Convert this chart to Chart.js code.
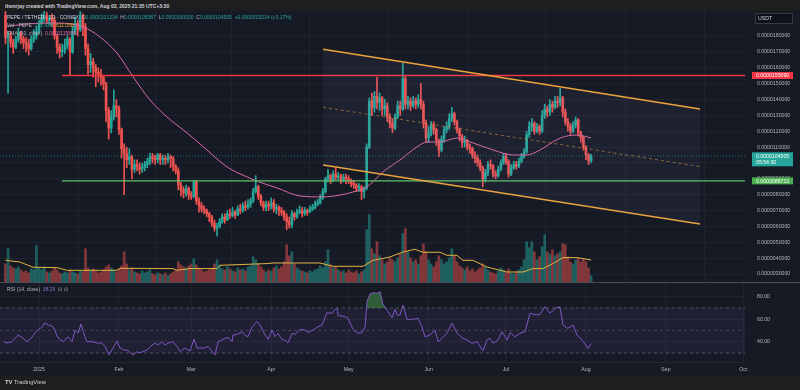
<!DOCTYPE html>
<html><head><meta charset="utf-8">
<script src="https://cdn.jsdelivr.net/npm/chart.js@4.4.1/dist/chart.umd.min.js"></script>
<style>
html,body{margin:0;padding:0;background:#1e1e1e;width:800px;height:390px;overflow:hidden;font-family:"Liberation Sans",Arial,sans-serif}
#wrap{position:relative;width:800px;height:390px}
.t{position:absolute;white-space:nowrap;font-size:5px;line-height:1;color:#b2b5be}
.g{color:#b2b5be}.u{color:#26a69a}.w{color:#d1d4dc}
</style></head><body>
<div id="wrap">
<div style="position:absolute;left:0;top:11px;width:800px;height:365px;background:#161a25"></div>
<canvas id="main" width="800" height="271" style="position:absolute;left:0;top:11px;width:800px;height:271px"></canvas>
<div style="position:absolute;left:0;top:282px;width:800px;height:1px;background:#4a4e5a"></div>
<canvas id="rsi" width="800" height="93" style="position:absolute;left:0;top:283px;width:800px;height:93px"></canvas>
<div style="position:absolute;left:0;top:362px;width:745px;height:1px;background:#232733"></div>

<div class="t w" style="left:5px;top:3.5px;font-weight:bold">thenrjay created with TradingView.com, Aug 03, 2025 21:35 UTC+3:30</div>
<div class="t" style="left:7px;top:15px"><span class="w">PEPE / TETHER · 1D · COINEX</span>&nbsp; <span class="g">O</span><span class="u">0.0000101234</span>&nbsp; <span class="g">H</span><span class="u">0.0000105387</span>&nbsp; <span class="g">L</span><span class="u">0.0000100000</span>&nbsp; <span class="g">C</span><span class="u">0.0000104505</span>&nbsp; <span class="u">+0.0000003214 (+3.17%)</span></div>
<div class="t" style="left:7px;top:23px"><span class="g">Vol · PEPE</span>&nbsp; <span class="u">171.42B</span>&nbsp; <span style="color:#f0a83a">611.05B</span></div>
<div class="t" style="left:7px;top:30.5px"><span class="g">EMA (50, close)</span>&nbsp; <span style="color:#dc6aa2">0.0000115838</span></div>
<div class="t" style="left:7px;top:286.5px"><span class="g">RSI (14, close)</span>&nbsp; <span style="color:#8e6fd0">38.29</span>&nbsp; <span class="g">∅ ∅</span></div>
<div class="t w" style="left:5px;top:380px;font-size:5.8px"><span style="font-weight:900">TV</span> TradingView</div>
</div>
<script>
// ---------- data (prices in 1e-6 USDT) ----------
const START_DAY = -13;            // first candle: Dec 19, 2024 (day 0 = Jan 1, 2025)
const firstOpen = 19.3;
const closes = [
17.9,18.0,17.6,17.3,17.8,18.2,17.8,17.6,17.5,17.2,17.8,18.0,18.3,
18.8,19.1,19.3,19.0,19.1,19.0,18.0,17.3,17.0,17.1,17.4,17.8,17.0,18.3,18.8,18.4,19.3,18.6,17.2,16.2,16.4,
16.0,15.7,15.6,15.4,15.0,13.3,12.2,12.9,13.6,13.4,12.1,10.9,10.6,
10.2,10.4,9.6,9.9,9.8,9.6,9.7,9.9,10.1,10.4,10.3,10.2,10.5,10.2,10.3,10.2,10.4,10.3,9.8,
9.5,8.6,8.3,8.1,8.4,8.0,7.9,8.8,7.6,7.3,7.1,7.0,6.8,6.6,6.2,5.9,6.0,
6.3,6.6,6.4,6.8,6.7,6.9,6.7,7.1,7.0,7.3,7.2,7.4,7.6,8.2,8.5,7.9,7.5,7.2,7.4,7.3,7.5,7.1,7.2,7.0,6.9,6.6,6.3,6.1,6.8,6.6,
6.9,7.0,6.8,7.0,6.9,7.1,7.2,7.4,7.5,7.8,8.2,9.0,9.2,8.9,9.3,9.1,9.2,8.9,9.1,9.0,8.9,8.7,8.6,8.4,8.5,8.2,8.4,
11.0,13.9,13.5,14.2,13.8,14.1,13.4,13.6,12.9,12.5,
12.2,12.9,13.6,13.4,15.3,13.7,13.9,13.6,13.9,13.7,
14.0,13.7,12.5,11.6,11.9,12.4,12.1,11.4,10.8,11.5,
12.1,12.3,12.8,13.1,12.6,12.1,11.7,11.3,11.4,11.0,
10.9,10.5,10.3,10.0,9.7,9.0,9.4,9.9,9.8,9.3,
9.2,9.6,10.0,10.4,10.1,9.3,9.7,9.9,9.8,10.1,
10.4,10.7,11.8,12.3,12.5,12.0,12.3,12.0,13.0,13.4,
13.2,13.7,13.5,13.9,13.8,14.1,13.2,12.6,12.3,12.0,
12.4,12.7,11.9,11.6,11.0,10.5,10.1291,10.4505];
const highs = [
19.6,18.3,18.3,17.8,18.0,18.5,18.3,18.0,17.9,17.8,18.0,18.4,18.6,
19.0,19.4,19.6,19.5,19.3,19.4,19.2,18.1,17.5,17.5,17.8,18.0,17.9,18.6,19.2,19.0,19.6,19.4,18.8,17.5,16.9,
16.6,16.2,16.0,15.9,15.5,15.1,13.5,13.3,14.6,14.0,13.6,12.2,11.2,
11.0,10.9,10.5,10.2,10.2,10.0,10.0,10.1,10.3,10.6,10.6,10.5,10.6,10.6,10.5,10.5,10.6,10.5,10.4,
9.9,9.7,8.8,8.5,8.6,8.5,8.2,8.9,8.9,7.8,7.5,7.3,7.1,6.9,6.7,6.4,6.2,
6.5,6.8,6.8,7.0,7.1,7.2,7.0,7.3,7.4,7.5,7.6,7.7,7.8,8.4,9.2,8.6,8.0,7.6,7.6,7.6,7.8,7.7,7.4,7.3,7.2,7.0,6.8,6.6,7.0,6.9,
7.1,7.3,7.2,7.2,7.1,7.3,7.4,7.6,7.7,8.0,8.4,9.1,9.6,9.3,9.5,9.7,9.4,9.3,9.3,9.3,9.2,9.0,8.9,8.7,8.7,8.6,8.5,
11.2,14.1,14.4,14.5,15.4,14.4,14.2,14.0,13.8,13.1,
12.8,13.1,13.9,13.9,16.3,15.5,14.2,14.1,14.2,14.1,
14.3,15.0,13.9,12.7,12.3,12.6,12.6,12.2,11.5,11.7,
12.3,12.6,13.1,13.5,13.2,12.7,12.2,11.8,11.7,11.5,
11.2,11.0,10.7,10.5,10.2,9.8,9.6,10.1,10.2,9.9,
9.5,9.8,10.2,10.6,10.6,10.2,9.9,10.1,10.1,10.3,
10.6,10.9,12.0,12.6,12.8,12.6,12.5,12.4,13.3,13.7,
13.6,14.0,13.9,14.2,14.2,14.7,14.2,13.4,12.8,12.5,
12.6,12.9,12.8,12.0,11.7,11.1,10.6,10.5387];
const lows = [
17.5,14.4,17.3,16.9,17.2,17.6,17.5,17.2,17.0,16.8,17.1,17.6,17.8,
18.2,18.7,18.9,18.8,18.7,18.6,17.8,16.9,16.6,16.7,16.9,17.2,15.5,16.9,18.1,18.0,18.3,18.0,16.8,15.6,15.7,
15.4,14.8,15.1,14.9,14.6,12.6,11.5,11.9,12.7,12.9,11.8,10.3,8.0,
9.7,9.9,9.0,9.4,9.5,9.3,9.4,9.5,9.7,9.9,10.0,9.9,10.0,9.9,9.9,9.9,10.0,9.7,9.5,
9.3,8.3,7.9,7.8,7.9,7.7,7.7,7.8,7.4,6.9,6.9,6.8,6.6,6.3,6.0,5.7,5.4,
5.9,6.2,6.2,6.4,6.5,6.6,6.5,6.7,6.8,6.9,7.0,7.1,7.2,7.5,8.1,7.7,7.3,7.0,7.0,7.0,7.1,6.9,6.8,6.7,6.7,6.4,5.8,5.9,5.9,6.4,
6.5,6.8,6.6,6.7,6.7,6.9,7.0,7.1,7.3,7.4,7.7,8.1,8.8,8.7,8.8,8.9,8.9,8.7,8.8,8.7,8.7,8.5,8.4,8.2,8.2,7.7,7.8,
8.3,10.9,13.0,13.2,13.4,13.3,13.0,13.0,12.6,12.2,
11.9,12.1,12.8,13.0,13.3,13.4,13.4,13.3,13.5,13.4,
13.5,13.4,12.2,11.3,11.3,11.7,11.8,11.1,10.4,10.7,
11.3,11.9,12.1,12.6,12.4,11.9,11.4,11.0,11.0,10.8,
10.6,10.3,10.0,9.8,9.5,8.5,8.8,9.2,9.6,9.1,
9.0,9.1,9.5,9.9,9.9,9.1,9.2,9.6,9.6,9.7,
10.0,10.3,10.6,11.6,12.0,11.8,11.9,11.8,11.9,12.8,
12.9,13.0,13.2,13.4,13.5,13.6,12.9,12.4,12.0,11.8,
11.9,12.2,11.7,11.3,10.8,10.2,9.9,10.0];
// volume in billions
const volumes = [
504,924,448,392,364,420,336,280,308,252,364,336,1008,
392,336,420,280,252,308,392,336,252,224,280,252,336,280,252,224,308,280,924,392,336,
364,308,252,280,336,420,476,392,336,280,364,448,840,
504,336,392,280,252,224,308,252,280,336,224,196,252,224,196,252,168,224,280,
336,560,476,420,392,448,504,644,476,392,336,280,308,336,392,504,616,
476,364,336,420,364,308,280,392,336,364,308,420,448,700,616,504,420,336,280,336,308,392,448,364,420,560,1036,728,840,504,
392,336,308,280,252,308,280,336,364,448,392,560,896,476,392,420,336,280,308,252,336,280,252,308,224,280,336,
1456,1876,924,784,1120,728,616,504,560,672,
616,560,672,784,1344,1484,840,672,560,616,
504,728,1064,840,616,504,420,560,728,616,
504,560,672,924,728,560,448,392,336,420,
308,364,280,336,392,504,420,336,280,252,
224,308,392,336,280,364,252,224,280,336,
420,616,1120,952,1120,840,616,700,980,1316,
840,784,896,728,784,840,1064,1036,700,560,
504,616,672,560,644,560,392,171.42];
const emaDays = [-13,-5,5.4,17.1,23.6,30.2,36.4,43.0,49.6,57.4,65.1,72.9,80.6,84.5,92.2,101.2,110.1,116.7,121.7,127.1,133.3,139.9,146.5,150.4,155.4,162.0,168.2,176.0,183.7,189.1,194.2,202.0,208.5,214];
const emaVals = [18.6,18.75,18.82,18.57,17.94,16.93,15.44,13.97,12.9,11.89,10.82,9.75,9.12,8.85,8.43,7.92,7.86,7.98,8.17,8.49,9.43,10.19,11.01,11.32,11.32,11.57,11.26,10.82,10.5,10.5,10.82,11.57,11.76,11.58];
const volMaDays = [-13,-7.4,-2.3,7.0,10.9,30.2,31.4,51.9,53.5,58.5,69.0,70.2,88.4,90.7,101.2,108.9,114.0,125.6,129.5,136.0,141.1,145.7,148.8,155.4,158.1,162.0,164.3,168.2,173.6,181.4,187.6,191.5,195.3,199.2,203.1,208.5,212.4,214];
const volMaVals = [603,556,409,400,325,325,381,373,325,373,373,464,512,528,528,528,436,436,603,695,834,909,826,826,742,742,603,603,417,278,278,373,373,512,678,678,631,611];
const rsiDays = [-13.6,-12.4,-10.5,-8.1,-6.2,-4.7,-2.7,-1.6,-0.4,1.2,2.3,3.5,5.4,7.4,9.3,11.2,12.8,14.0,15.1,16.3,17.1,18.6,20.9,22.5,24.4,25.6,27.1,28.7,30.2,31.4,32.9,34.5,36.4,38.0,39.1,41.9,43.8,45.0,46.1,47.7,48.8,50.0,51.9,53.5,54.7,56.6,58.5,60.1,61.2,62.4,64.3,65.5,67.1,68.2,69.4,70.9,72.1,73.3,74.8,75.2,77.1,78.7,79.8,81.0,82.6,84.5,85.7,87.6,88.8,90.3,91.5,92.6,94.2,95.3,96.5,98.1,99.2,101.2,103.1,104.3,106.2,108.1,109.7,111.6,113.6,114.7,115.5,115.9,117.8,119.8,121.7,123.6,125.2,126.4,127.1,128.3,129.5,131.0,132.2,133.3,135.3,136.8,138.0,138.8,139.9,141.1,142.6,145.0,146.9,148.4,149.6,151.6,153.5,154.7,156.2,158.1,160.1,162.0,164.3,165.9,167.8,169.8,172.1,173.6,174.8,176.0,177.9,179.5,181.4,182.6,184.5,186.4,188.4,190.3,193.0,194.2,196.1,198.1,200.0,201.9,203.1,204.7,205.8,207.0,208.5,210.5,212.8,214];
const rsiVals = [40,38.8,40,46,43.3,40,44,47.7,50.5,53,56.7,54.9,53.4,43.3,40,44.4,40,50.4,47.7,55.7,48.9,40,40,38.8,38.8,35.7,28.2,34.4,40.6,34.4,32.7,32.1,28.2,31,30.2,32.7,37,38.8,37,40,37,38.8,40,35.7,31.2,34.4,31.7,42.4,34.4,34.4,34.4,35.8,31.3,28.3,40,41.5,43,43.8,40,45.9,46.8,48.8,45.9,44.4,53.3,57.8,54.8,45.9,42,50.4,44.4,47.4,42,41.5,39,47.4,46.5,50.9,50.4,48.2,50.4,53.3,54.8,65.7,65.2,68.8,69.7,63.1,62.8,60.8,51,47.5,48,53.3,75.6,82.4,83.6,83,84.4,73.5,66.7,61.3,68.8,63.7,63.7,72.6,59.9,59.9,60.8,53.3,44.4,46,50.4,40,43,47.5,56.4,47.5,43,41.5,38.6,40,32,41.5,43,38.6,41.5,48.9,41.5,48,44.4,47.5,48.9,65.2,63.7,64.4,71.1,65.2,69.7,71.1,54.8,51.9,52.8,54.8,46,41.5,34.1,38.3];
const monthDays = [0,31,59,90,120,151,181,212,243,273];
const monthLabels = ['2025','Feb','Mar','Apr','May','Jun','Jul','Aug','Sep','Oct'];
const priceTicks = [3,4,5,6,7,8,9,10,11,12,13,14,15,16,17,18];
const rsiTicks = [40,60,80];
const resistance = 15.509, support = 8.8713, lastPrice = 10.4505, countdown = '05:54:30';
const levelStartDay = 8.9;
const channelDays = [110.1, 256.2];
const channelUpper = [17.16, 13.40];
const channelLower = [9.87, 6.15];
const rsiBand = [30, 50, 70];

// ---------- layout constants ----------
const X_MIN = -15.12, X_MAX = 273.64;
const P_MIN = 2.499, P_MAX = 19.575, V_MAX = 7530;
const R_MIN = 21.96, R_MAX = 92.18;
const UP = '#26a69a', DN = '#ef5350', GRID = '#1f2330', TXT = '#b2b5be';
const FONT = {family: '"Liberation Sans", Arial, sans-serif', size: 5.2};
Chart.defaults.font.family = FONT.family;

const days = closes.map((_, i) => START_DAY + i);
const opens = closes.map((c, i) => i === 0 ? firstOpen : closes[i - 1]);
const isUp = i => closes[i] >= opens[i];
const fmtP = v => (v * 1e-6).toFixed(10);
const fit = (w, h) => s => { if (w != null) s.width = w; if (h != null) s.height = h; s.paddingTop = s.paddingBottom = s.paddingLeft = s.paddingRight = 0; };
const seg = (x0, x1, y0, y1) => [{x: x0, y: y0}, {x: x1, y: y1}];
const lineDs = (data, color, extra) => Object.assign({type: 'line', data, borderColor: color, borderWidth: 1, pointRadius: 0, fill: false, yAxisID: 'y', order: 0}, extra || {});

const axisLabels = {
  id: 'axisLabels',
  afterDraw(chart) {
    const c = chart.ctx, ys = chart.scales.y;
    c.save();
    c.fillStyle = '#0f121a'; c.fillRect(755, 2, 38, 11);
    c.strokeStyle = '#363a45'; c.lineWidth = 1; c.strokeRect(755.5, 2.5, 37, 10);
    c.font = '5.2px "Liberation Sans", Arial, sans-serif'; c.textBaseline = 'middle'; c.textAlign = 'left';
    c.fillStyle = '#d1d4dc'; c.fillText('USDT', 758, 7.8);
    const items = [
      {v: resistance, bg: '#f23645'},
      {v: support, bg: '#4caf50'},
      {v: lastPrice, bg: UP, sub: countdown}
    ];
    items.forEach(it => {
      const y = ys.getPixelForValue(it.v);
      const h = it.sub ? 14 : 7;
      c.fillStyle = it.bg;
      c.fillRect(752, y - 3.5, 41, h);
      c.fillStyle = '#ffffff';
      c.fillText(fmtP(it.v), 756, y + 0.3);
      if (it.sub) c.fillText(it.sub, 756, y + 6.8);
    });
    c.restore();
  }
};

new Chart(document.getElementById('main'), {
  type: 'bar',
  data: {
    datasets: [
      {type: 'bar', label: 'vol', yAxisID: 'yv', data: days.map((d, i) => ({x: d, y: volumes[i]})),
       backgroundColor: ctx => isUp(ctx.dataIndex) ? 'rgba(38,166,154,0.5)' : 'rgba(239,83,80,0.5)',
       barThickness: 2, grouped: false, order: 20},
      lineDs(volMaDays.map((d, i) => ({x: d, y: volMaVals[i]})), '#e3b341', {yAxisID: 'yv', order: 15}),
      lineDs(seg(channelDays[0], channelDays[1], channelUpper[0], channelUpper[1]), '#eea43c',
        {borderWidth: 1.5, fill: '+1', backgroundColor: 'rgba(140,140,200,0.07)'}),
      lineDs(seg(channelDays[0], channelDays[1], channelLower[0], channelLower[1]), '#eea43c', {borderWidth: 1.5}),
      lineDs(seg(channelDays[0], channelDays[1], (channelUpper[0] + channelLower[0]) / 2, (channelUpper[1] + channelLower[1]) / 2),
        'rgba(220,150,60,0.6)', {borderDash: [3, 3]}),
      lineDs(seg(levelStartDay, X_MAX, resistance, resistance), '#f23645', {borderWidth: 1.4}),
      lineDs(seg(levelStartDay, X_MAX, support, support), '#5cc46a', {borderWidth: 1.3}),
      lineDs(seg(X_MIN, X_MAX, lastPrice, lastPrice), 'rgba(38,166,154,0.6)', {borderDash: [1, 2]}),
      lineDs(emaDays.map((d, i) => ({x: d, y: emaVals[i]})), '#dc6aa2', {cubicInterpolationMode: 'monotone', order: 1}),
      {type: 'bar', label: 'wick', yAxisID: 'y',
       data: days.map((d, i) => ({x: d, y: [Math.min(lows[i], opens[i], closes[i]), Math.max(highs[i], opens[i], closes[i])]})),
       backgroundColor: ctx => isUp(ctx.dataIndex) ? UP : DN, barThickness: 1, grouped: false, order: 3},
      {type: 'bar', label: 'body', yAxisID: 'y',
       data: days.map((d, i) => ({x: d, y: [opens[i], closes[i]]})),
       backgroundColor: ctx => isUp(ctx.dataIndex) ? UP : DN, barThickness: 2, minBarLength: 1, grouped: false, order: 2}
    ]
  },
  options: {
    responsive: false, animation: false, devicePixelRatio: 1, maintainAspectRatio: false,
    layout: {padding: 0},
    plugins: {legend: {display: false}, tooltip: {enabled: false}},
    scales: {
      x: {type: 'linear', min: X_MIN, max: X_MAX, offset: false,
          ticks: {display: false}, border: {display: false},
          grid: {color: GRID, drawTicks: false},
          afterBuildTicks: s => { s.ticks = monthDays.map(v => ({value: v})); },
          afterFit: fit(null, 0)},
      y: {type: 'linear', position: 'right', min: P_MIN, max: P_MAX,
          border: {display: false},
          grid: {color: GRID, drawTicks: false},
          ticks: {color: TXT, font: FONT, padding: 12, callback: v => fmtP(v)},
          afterBuildTicks: s => { s.ticks = priceTicks.map(v => ({value: v})); },
          afterFit: fit(55, null)},
      yv: {type: 'linear', display: false, min: 0, max: V_MAX}
    }
  },
  plugins: [axisLabels]
});

new Chart(document.getElementById('rsi'), {
  type: 'line',
  data: {
    datasets: [
      lineDs(seg(X_MIN, X_MAX, rsiBand[2], rsiBand[2]), 'rgba(120,123,134,0.55)', {borderDash: [3, 3], fill: '+1', backgroundColor: 'rgba(126,87,194,0.10)', order: 5}),
      lineDs(seg(X_MIN, X_MAX, rsiBand[0], rsiBand[0]), 'rgba(120,123,134,0.55)', {borderDash: [3, 3], order: 5}),
      lineDs(seg(X_MIN, X_MAX, rsiBand[1], rsiBand[1]), 'rgba(120,123,134,0.4)', {borderDash: [3, 3], order: 5}),
      lineDs(rsiDays.map((d, i) => ({x: d, y: rsiVals[i]})), 'rgba(0,0,0,0)',
        {borderWidth: 0, fill: {target: {value: rsiBand[0]}, above: 'rgba(0,0,0,0)', below: 'rgba(242,54,69,0.3)'}, order: 3}),
      lineDs(rsiDays.map((d, i) => ({x: d, y: rsiVals[i]})), '#7e57c2',
        {fill: {target: {value: rsiBand[2]}, above: 'rgba(76,175,80,0.45)', below: 'rgba(0,0,0,0)'}, order: 1})
    ]
  },
  options: {
    responsive: false, animation: false, devicePixelRatio: 1, maintainAspectRatio: false,
    layout: {padding: 0},
    plugins: {legend: {display: false}, tooltip: {enabled: false}},
    scales: {
      x: {type: 'linear', min: X_MIN, max: X_MAX, offset: false,
          border: {display: false},
          grid: {color: GRID, drawTicks: false},
          ticks: {color: TXT, font: FONT, padding: 4, autoSkip: false, maxRotation: 0,
                  callback: v => monthLabels[monthDays.indexOf(v)]},
          afterBuildTicks: s => { s.ticks = monthDays.map(v => ({value: v})); },
          afterFit: fit(null, 14)},
      y: {type: 'linear', position: 'right', min: R_MIN, max: R_MAX,
          border: {display: false},
          grid: {color: GRID, drawTicks: false},
          ticks: {color: TXT, font: FONT, padding: 12, callback: v => v.toFixed(2)},
          afterBuildTicks: s => { s.ticks = rsiTicks.map(v => ({value: v})); },
          afterFit: fit(55, null)}
    }
  }
});
</script>
</body></html>
